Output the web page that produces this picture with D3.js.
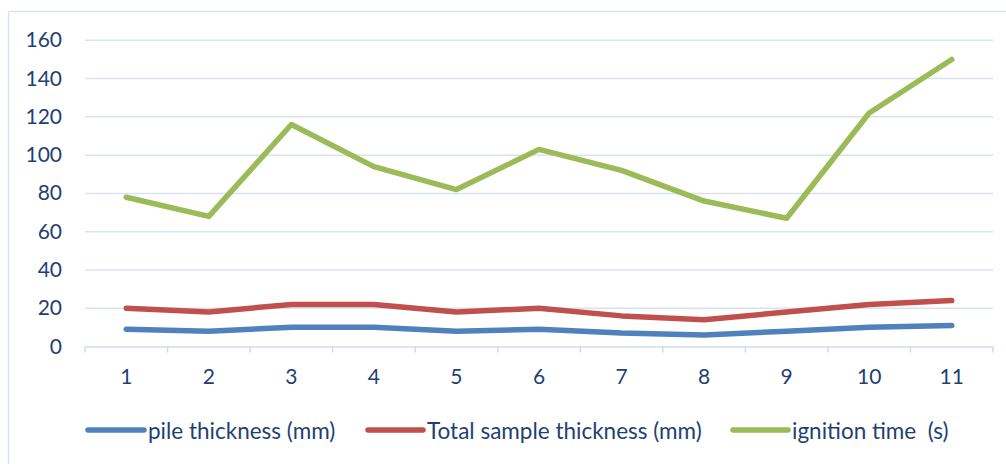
<!DOCTYPE html>
<html>
<head>
<meta charset="utf-8">
<script src="https://cdn.jsdelivr.net/npm/d3@7"></script>
<style>
  body { margin: 0; background: #fff; }
  text { font-family: Lato, "Open Sans", sans-serif; }
</style>
</head>
<body>
<div id="main"></div>
<script>
var categories = ['1', '2', '3', '4', '5', '6', '7', '8', '9', '10', '11']
var pile_thickness = [9, 8, 10, 10, 8, 9, 7, 6, 8, 10, 11]
var total_thickness = [20, 18, 22, 22, 18, 20, 16, 14, 18, 22, 24]
var ignition_time = [78, 68, 116, 94, 82, 103, 92, 76, 67, 122, 150]
var y_ticks = [0, 20, 40, 60, 80, 100, 120, 140, 160]
var series_names = ['pile thickness (mm)', 'Total sample thickness (mm)', 'ignition time  (s)']

var w = 1006
var h = 464
var text_color = '#1F3F73'
var colors = ['#4F81BD', '#C0504D', '#9BBB59']

var svg = d3.select('div#main').append('svg')
  .attr('width', w)
  .attr('height', h)

// frame: only top and left edges show in the crop
svg.append('line')
  .attr('x1', 8.5).attr('x2', w)
  .attr('y1', 11.5).attr('y2', 11.5)
  .attr('stroke', '#D9E2F0').attr('stroke-width', 1.5)
svg.append('line')
  .attr('x1', 8.5).attr('x2', 8.5)
  .attr('y1', 11.5).attr('y2', h)
  .attr('stroke', '#D9E2F0').attr('stroke-width', 1.5)

var left = 85
var right = 993
var top_y = 40.3
var bottom_y = 346.5

var scale_x = d3.scaleBand().domain(categories).range([left, right])
var scale_y = d3.scaleLinear().domain([0, 160]).range([bottom_y, top_y])

// grid lines
y_ticks.forEach(function (t) {
  if (t === 0) return
  svg.append('line')
    .attr('x1', left).attr('x2', right)
    .attr('y1', scale_y(t)).attr('y2', scale_y(t))
    .attr('stroke', '#D9E2F3')
    .attr('stroke-width', 1.5)
})

// y labels
y_ticks.forEach(function (t) {
  svg.append('text')
    .text(t)
    .attr('x', 62)
    .attr('y', scale_y(t) + 7)
    .attr('text-anchor', 'end')
    .style('font-size', '21px')
    .attr('fill', text_color)
})

// x axis
var x_axis = d3.axisBottom(scale_x).tickSize(0).tickSizeOuter(0)
var gx = svg.append('g').attr('transform', 'translate(0,' + bottom_y + ')').call(x_axis)
gx.select('.domain').attr('stroke', '#D0DAEC').attr('stroke-width', 1.5)
gx.selectAll('.tick line').remove()
gx.selectAll('.tick text')
  .attr('y', 37.5)
  .attr('dy', null)
  .attr('fill', text_color)
  .style('font-size', '21px')
  .style('font-family', 'Lato, "Open Sans", sans-serif')
// ticks at band boundaries
d3.range(0, categories.length + 1).forEach(function (i) {
  var x = left + scale_x.step() * i
  svg.append('line')
    .attr('x1', x).attr('x2', x)
    .attr('y1', bottom_y).attr('y2', bottom_y + 6)
    .attr('stroke', '#D0DAEC')
    .attr('stroke-width', 1.5)
})

var line = d3.line()
  .x(function (d, i) { return scale_x(categories[i]) + scale_x.bandwidth() / 2 })
  .y(function (d) { return scale_y(d) })

var all_series = [pile_thickness, total_thickness, ignition_time]
all_series.forEach(function (s, idx) {
  svg.append('path')
    .attr('d', line(s))
    .attr('fill', 'none')
    .attr('stroke', colors[idx])
    .attr('stroke-width', 5.5)
    .attr('stroke-linecap', 'round')
    .attr('stroke-linejoin', 'round')
})

// legend
var legend_y = 430
var legend_x = [88, 368, 733]
var legend_len = [56, 55, 55]
series_names.forEach(function (name, idx) {
  svg.append('line')
    .attr('x1', legend_x[idx]).attr('x2', legend_x[idx] + legend_len[idx])
    .attr('y1', legend_y).attr('y2', legend_y)
    .attr('stroke', colors[idx])
    .attr('stroke-width', 5.5)
    .attr('stroke-linecap', 'round')
  svg.append('text')
    .text(name)
    .attr('x', legend_x[idx] + legend_len[idx] + 4)
    .attr('y', legend_y + 8.5)
    .style('font-size', '22.5px')
    .style('white-space', 'pre')
    .attr('fill', text_color)
})
</script>
</body>
</html>
